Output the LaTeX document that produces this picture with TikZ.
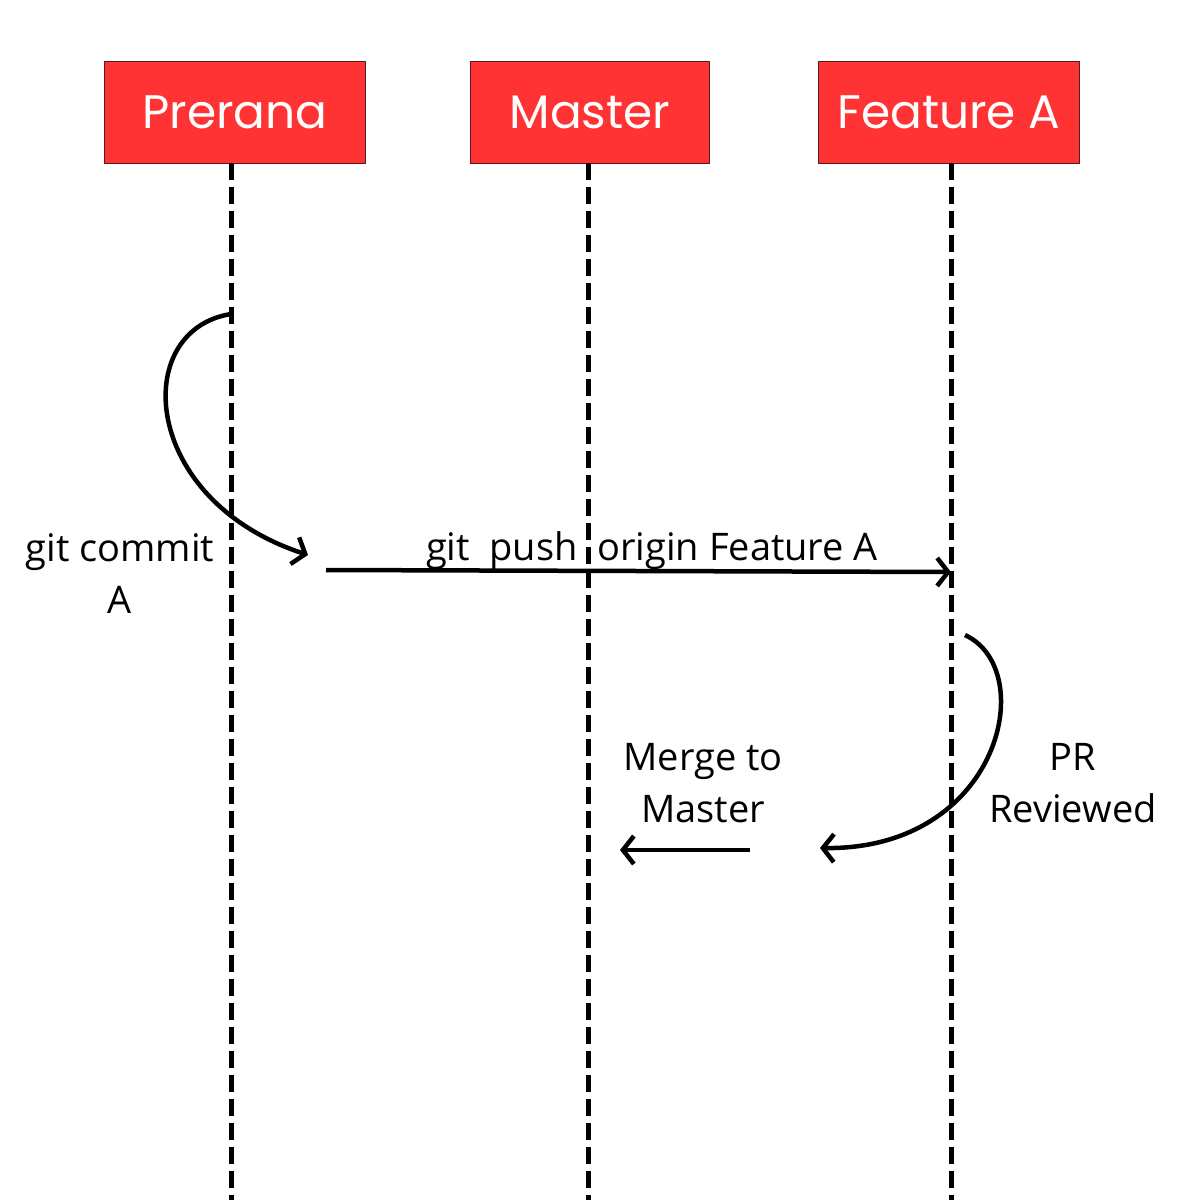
\documentclass[tikz,border=0pt]{standalone}
\usepackage{fontspec}
\setmainfont{Open Sans}
\newfontfamily\headfont{Poppins}
\usetikzlibrary{arrows.meta}
\definecolor{hdred}{HTML}{FF3333}
\definecolor{hdborder}{HTML}{5A1A1A}
\begin{document}
\begin{tikzpicture}[x=1pt,y=-1pt,
  header/.style={draw=hdborder,line width=1pt,fill=hdred,text=white,inner sep=0pt,
     font=\headfont\fontsize{47}{50}\selectfont},
  lifeline/.style={line width=5pt,dash pattern=on 17pt off 7pt},
  conn/.style={line width=4.5pt,-{Straight Barb[length=11pt,width=28pt,line width=4.5pt]}},
  lbl/.style={font=\fontsize{38}{52}\selectfont,align=center,inner sep=0pt}]
\useasboundingbox (0,0) rectangle (1200,1200);
% headers
\node[header,minimum width=261pt,minimum height=102pt] (pre) at (235,112) {Prerana};
\node[header,minimum width=239pt,minimum height=102pt] (mas) at (590,112) {Master};
\node[header,minimum width=261pt,minimum height=102pt] (fea) at (949,112) {Feature A};
% lifeline ends
\coordinate (preEnd) at (231,1200);
\coordinate (masEnd) at (588,1200);
\coordinate (feaEnd) at (951,1200);
\draw[lifeline] (231,163) -- (preEnd);
\draw[lifeline] (588,163) -- (masEnd);
\draw[lifeline] (951,163) -- (feaEnd);
% connector points
\coordinate (c1s) at (231,314);
\coordinate (c1e) at (308,555);
\coordinate (pushS) at (326,570);
\coordinate (pushE) at (951,572);
\coordinate (c2s) at (965,635);
\coordinate (c2e) at (820,848);
\coordinate (mS) at (750,850);
\coordinate (mE) at (620,850);
% connectors
\draw[conn] (c1s) .. controls (130,330) and (140,500) .. (c1e);
\draw[conn] (pushS) -- (pushE);
\draw[conn] (c2s) .. controls (1040,670) and (1000,850) .. (c2e);
\draw[conn] (mS) -- (mE);
% labels
\node[lbl] (lcommit) at (120,574) {git commit\\A};
\node[lbl,anchor=base] (lpush) at (652,560) {git\ \ push\ \ origin Feature A};
\node[lbl] (lmerge) at (703,783) {Merge to\\Master};
\node[lbl] (lpr) at (1073,783) {PR\\Reviewed};
\end{tikzpicture}
\end{document}
